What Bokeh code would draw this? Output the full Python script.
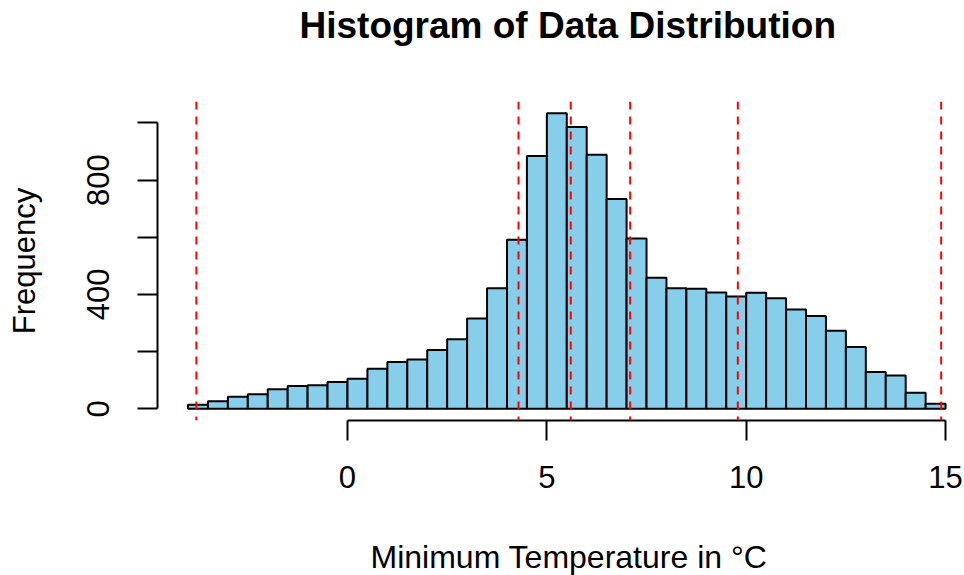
from bokeh.plotting import figure
from bokeh.models import LinearAxis, FixedTicker, Span, Title, Range1d
from bokeh.embed import file_html
from bokeh.resources import INLINE

# ---- data ----
bin_left = [-4.0, -3.5, -3.0, -2.5, -2.0, -1.5, -1.0, -0.5, 0.0, 0.5, 1.0, 1.5,
            2.0, 2.5, 3.0, 3.5, 4.0, 4.5, 5.0, 5.5, 6.0, 6.5, 7.0, 7.5, 8.0, 8.5,
            9.0, 9.5, 10.0, 10.5, 11.0, 11.5, 12.0, 12.5, 13.0, 13.5, 14.0, 14.5]
bin_width = 0.5
counts = [14, 26, 42, 51, 68, 80, 82, 94, 105, 140, 164, 172, 206, 243, 316, 422,
          591, 884, 1034, 986, 889, 734, 596, 458, 422, 420, 407, 393, 406, 387,
          347, 325, 273, 216, 129, 116, 56, 18]
summary_names = ["Min", "Q1", "Median", "Mean", "Q3", "Max"]
summary_values = [-3.79, 4.29, 5.60, 7.09, 9.79, 14.89]
x_ticks = [0, 5, 10, 15]
y_ticks = [0, 200, 400, 600, 800, 1000]
y_labels_shown = [0, 400, 800]
title_text = "Histogram of Data Distribution"
x_label = "Minimum Temperature in °C"
y_label = "Frequency"

FONT = "Liberation Sans"
BASE = "31px"

p = figure(width=964, height=575, output_backend="svg", toolbar_location=None,
           x_range=Range1d(-4.765, 15.475), y_range=Range1d(-41, 1075),
           x_axis_location=None, y_axis_location=None,
           min_border_left=157, min_border_right=0, min_border_top=0,
           min_border_bottom=0)
p.outline_line_color = None
p.xgrid.visible = False
p.ygrid.visible = False
p.background_fill_color = "white"
p.border_fill_color = "white"

right = [l + bin_width for l in bin_left]
p.quad(left=bin_left, right=right, bottom=0, top=counts,
       fill_color="#87CEEB", line_color="black", line_width=2)

for v in summary_values:
    p.add_layout(Span(location=v, dimension="height", line_color="#FF0000",
                      line_dash="8 7", line_width=2))

# x axis
xa = LinearAxis(ticker=FixedTicker(ticks=x_ticks), bounds=(0, 15))
xa.major_tick_out = 20
xa.major_tick_in = 0
xa.minor_tick_out = 0
xa.minor_tick_in = 0
xa.axis_line_width = 2
xa.major_tick_line_width = 2
xa.major_label_text_font = FONT
xa.major_label_text_font_size = BASE
xa.major_label_text_color = "black"
xa.major_label_standoff = 25
p.add_layout(xa, "below")

# spacer between tick labels and x title
p.add_layout(Title(text=" ", text_font_size="1px", standoff=42), "below")

xt = Title(text=x_label, align="left", offset=213, vertical_align="bottom",
           text_font=FONT, text_font_size="32px", text_font_style="normal",
           text_color="black", standoff=2)
p.add_layout(xt, "below")

# y axis
ya = LinearAxis(ticker=FixedTicker(ticks=y_ticks), bounds=(0, 1000))
ya.major_tick_out = 20
ya.major_tick_in = 0
ya.minor_tick_out = 0
ya.minor_tick_in = 0
ya.axis_line_width = 2
ya.major_tick_line_width = 2
ya.major_label_text_font = FONT
ya.major_label_text_font_size = BASE
ya.major_label_text_color = "black"
ya.major_label_orientation = "vertical"
ya.major_label_standoff = 28
ya.major_label_overrides = {t: (str(t) if t in y_labels_shown else "") for t in y_ticks}
ya.axis_label = y_label
ya.axis_label_text_font = FONT
ya.axis_label_text_font_size = BASE
ya.axis_label_text_font_style = "normal"
ya.axis_label_text_color = "black"
ya.axis_label_standoff = 43
p.add_layout(ya, "left")

# spacer between plot frame and main title
p.add_layout(Title(text=" ", text_font_size="1px", standoff=51), "above")

p.title.text = title_text
p.title.align = "left"
p.title.offset = 142
p.title.vertical_align = "bottom"
p.title.text_font = FONT
p.title.text_font_size = "37px"
p.title.text_font_style = "bold"
p.title.text_color = "black"
p.title.standoff = 4

open("out.html", "w").write(file_html(p, INLINE))
